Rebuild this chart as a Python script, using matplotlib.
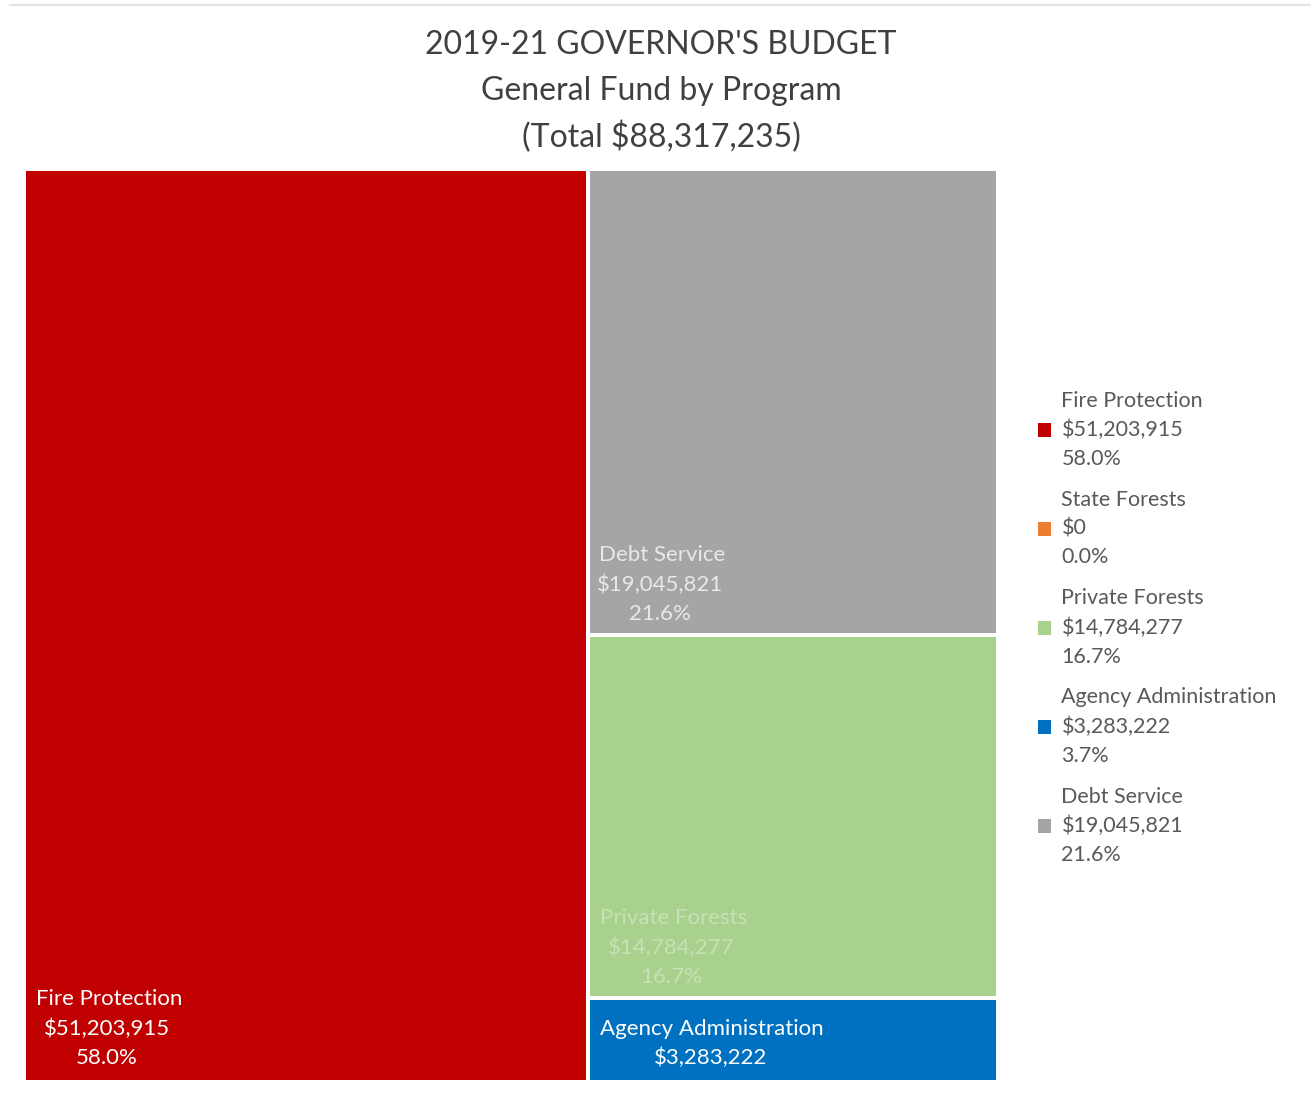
import matplotlib.pyplot as plt
from matplotlib.patches import Rectangle, Patch

plt.rcParams['font.family'] = ['Lato', 'DejaVu Sans']

programs = ['Fire Protection', 'State Forests', 'Private Forests',
            'Agency Administration', 'Debt Service']
amounts = [51203915, 0, 14784277, 3283222, 19045821]
colors = ['#C00000', '#ED7D31', '#A9D18E', '#0070C0', '#A5A5A5']
total = sum(amounts)

title_lines = ["2019-21 GOVERNOR'S BUDGET", 'General Fund by Program',
               '(Total ${:,})'.format(total)]

fig = plt.figure(figsize=(13.11, 10.95), dpi=100)
ax = fig.add_axes([0, 0, 1, 1])
ax.set_xlim(0, 1311)
ax.set_ylim(1095, 0)
ax.axis('off')

# thin frame line along the top
ax.plot([10, 1311], [5, 5], color='#E3E3E3', lw=1.5)

for i, t in enumerate(title_lines):
    ax.text(661, 45 + i * 46, t, ha='center', va='center', fontsize=23,
            color='#404040')

# treemap area
x0, y0, x1, y1 = 26, 171, 996, 1080
gap = 4
fire = amounts[0]
w_fire = (x1 - x0) * fire / total
ax.add_patch(Rectangle((x0, y0), w_fire - gap / 2, y1 - y0,
                       color=colors[0], lw=0))

# right column, stacked top to bottom
col_order = [4, 2, 3]
rest = sum(amounts[i] for i in col_order)
cx = x0 + w_fire + gap / 2
cw = x1 - cx
avail = (y1 - y0) - gap * (len(col_order) - 1)
y = y0
boxes = {}
for i in col_order:
    h = avail * amounts[i] / rest
    ax.add_patch(Rectangle((cx, y), cw, h, color=colors[i], lw=0))
    boxes[i] = (cx, y, h)
    y += h + gap

def pct(v):
    return '{:.1f}%'.format(100 * v / total)

def money(v):
    return '${:,}'.format(v)

# labels inside the boxes
lab = dict(fontsize=16, color='white')
ax.text(36, 999, programs[0], va='center', **lab)
ax.text(107, 1029, money(amounts[0]), va='center', ha='center', **lab)
ax.text(107, 1058, pct(amounts[0]), va='center', ha='center', **lab)

bx, by, bh = boxes[4]
ax.text(bx + 9, 555, programs[4], va='center', alpha=0.75, **lab)
ax.text(bx + 70, 585, money(amounts[4]), va='center', ha='center',
        alpha=0.75, **lab)
ax.text(bx + 70, 614, pct(amounts[4]), va='center', ha='center',
        alpha=0.75, **lab)

bx, by, bh = boxes[2]
ax.text(bx + 10, 918, programs[2], va='center', alpha=0.35, **lab)
ax.text(bx + 81, 948, money(amounts[2]), va='center', ha='center',
        alpha=0.35, **lab)
ax.text(bx + 81, 977, pct(amounts[2]), va='center', ha='center',
        alpha=0.35, **lab)

bx, by, bh = boxes[3]
ax.text(bx + 10, 1029, programs[3], va='center', **lab)
ax.text(bx + 120, 1058, money(amounts[3]), va='center', ha='center', **lab)

handles = [Patch(facecolor=c, edgecolor='none') for c in colors]
labels = ['{}\n{}\n{}'.format(p, money(v), pct(v))
          for p, v in zip(programs, amounts)]
leg = fig.legend(handles, labels, loc='upper left',
                 bbox_to_anchor=(1027 / 1311, 1 - 380 / 1095),
                 frameon=False, fontsize=15.5, handlelength=0.6,
                 handleheight=0.6, handletextpad=0.5, labelspacing=0.97,
                 borderpad=0)
for t in leg.get_texts():
    t.set_color('#595959')
    t.set_linespacing(1.55)

fig.savefig('out.png', dpi=100, facecolor='white')
